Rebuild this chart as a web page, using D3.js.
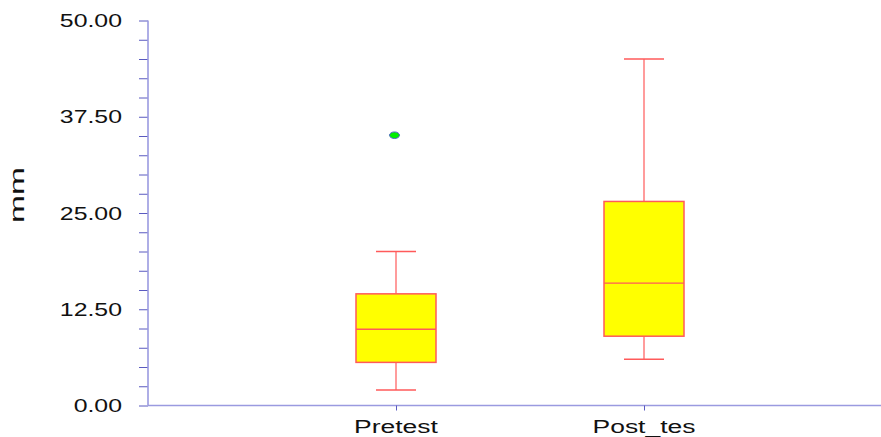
<!DOCTYPE html>
<html>
<head>
<meta charset="utf-8">
<script src="https://cdn.jsdelivr.net/npm/d3@7"></script>
<style>
  html, body { margin: 0; padding: 0; background: #fff; }
  svg { display: block; }
  text { font-family: "Liberation Sans", Arial, sans-serif; fill: #111; }
</style>
</head>
<body>
<svg id="chart" width="881" height="437"></svg>
<script>
// ---- data ----
const categories = ["Pretest", "Post_tes"];
const whiskerLow  = [2.0, 6.0];
const q1          = [5.6, 9.0];
const median      = [9.9, 15.9];
const q3          = [14.5, 26.5];
const whiskerHigh = [20.0, 45.0];
const outliers    = [[35.1], []];
const majorTicks  = [0, 12.5, 25, 37.5, 50];
const minorStep   = 2.5;
const yTitle = "mm";

// ---- layout ----
const svg = d3.select("#chart");
const x0 = 148, yTop = 20.5, yBot = 405.5;
const y = d3.scaleLinear().domain([0, 50]).range([yBot, yTop]);
const x = d3.scalePoint().domain(categories).range([x0, 892]).padding(1);

const axisLine = "#9a9ae0", tickCol = "#5a5ac0";
const boxStroke = "#ff5a5a", boxFill = "#ffff00";
const boxW = 80, capW = 40;

// y axis ticks
const allTicks = d3.range(0, 50 + 1e-9, minorStep);
const yAxis = d3.axisLeft(y).tickValues(allTicks).tickSize(9).tickFormat("");
const gy = svg.append("g").attr("transform", `translate(${x0},0)`).call(yAxis);
gy.select(".domain").remove();
gy.selectAll(".tick line").attr("stroke", tickCol).attr("stroke-width", 1);
svg.append("line").attr("x1", x0).attr("x2", x0).attr("y1", yTop).attr("y2", yBot)
  .attr("stroke", axisLine).attr("stroke-width", 1.6);

// y labels (stretched horizontally like the original)
majorTicks.forEach(v => {
  svg.append("text")
    .attr("transform", `translate(122,${y(v) + 6.5}) scale(1.38,1)`)
    .attr("text-anchor", "end")
    .attr("font-size", 18)
    .text(d3.format(".2f")(v));
});

// y title
svg.append("text")
  .attr("transform", `translate(23.5,195) rotate(-90) scale(1.6,1)`)
  .attr("text-anchor", "middle")
  .attr("font-size", 21)
  .text(yTitle);

// x axis
svg.append("line").attr("x1", x0).attr("x2", 881).attr("y1", yBot).attr("y2", yBot)
  .attr("stroke", axisLine).attr("stroke-width", 1.6);
const xAxis = d3.axisBottom(x).tickSize(5).tickFormat("");
const gx = svg.append("g").attr("transform", `translate(0,${yBot})`).call(xAxis);
gx.select(".domain").remove();
gx.selectAll(".tick line").attr("stroke", tickCol);
categories.forEach(c => {
  svg.append("text")
    .attr("transform", `translate(${x(c)},433) scale(1.47,1)`)
    .attr("text-anchor", "middle")
    .attr("font-size", 18)
    .text(c);
});

// boxes
categories.forEach((c, i) => {
  const cx = x(c);
  const g = svg.append("g");
  // whiskers
  g.append("line").attr("x1", cx).attr("x2", cx).attr("y1", y(whiskerHigh[i])).attr("y2", y(q3[i]))
    .attr("stroke", boxStroke).attr("stroke-width", 1.2);
  g.append("line").attr("x1", cx).attr("x2", cx).attr("y1", y(q1[i])).attr("y2", y(whiskerLow[i]))
    .attr("stroke", boxStroke).attr("stroke-width", 1.2);
  [whiskerHigh[i], whiskerLow[i]].forEach(v => {
    g.append("line").attr("x1", cx - capW / 2).attr("x2", cx + capW / 2)
      .attr("y1", y(v)).attr("y2", y(v))
      .attr("stroke", boxStroke).attr("stroke-width", 1.5);
  });
  // box
  g.append("rect").attr("x", cx - boxW / 2).attr("width", boxW)
    .attr("y", y(q3[i])).attr("height", y(q1[i]) - y(q3[i]))
    .attr("fill", boxFill).attr("stroke", boxStroke).attr("stroke-width", 1.5);
  g.append("line").attr("x1", cx - boxW / 2).attr("x2", cx + boxW / 2)
    .attr("y1", y(median[i])).attr("y2", y(median[i]))
    .attr("stroke", boxStroke).attr("stroke-width", 1.3);
  // outliers
  outliers[i].forEach(v => {
    g.append("ellipse").attr("cx", cx - 1.5).attr("cy", y(v)).attr("rx", 5).attr("ry", 3.3)
      .attr("fill", "#00ee00").attr("stroke", "#5068c8").attr("stroke-width", 1);
  });
});
</script>
</body>
</html>
